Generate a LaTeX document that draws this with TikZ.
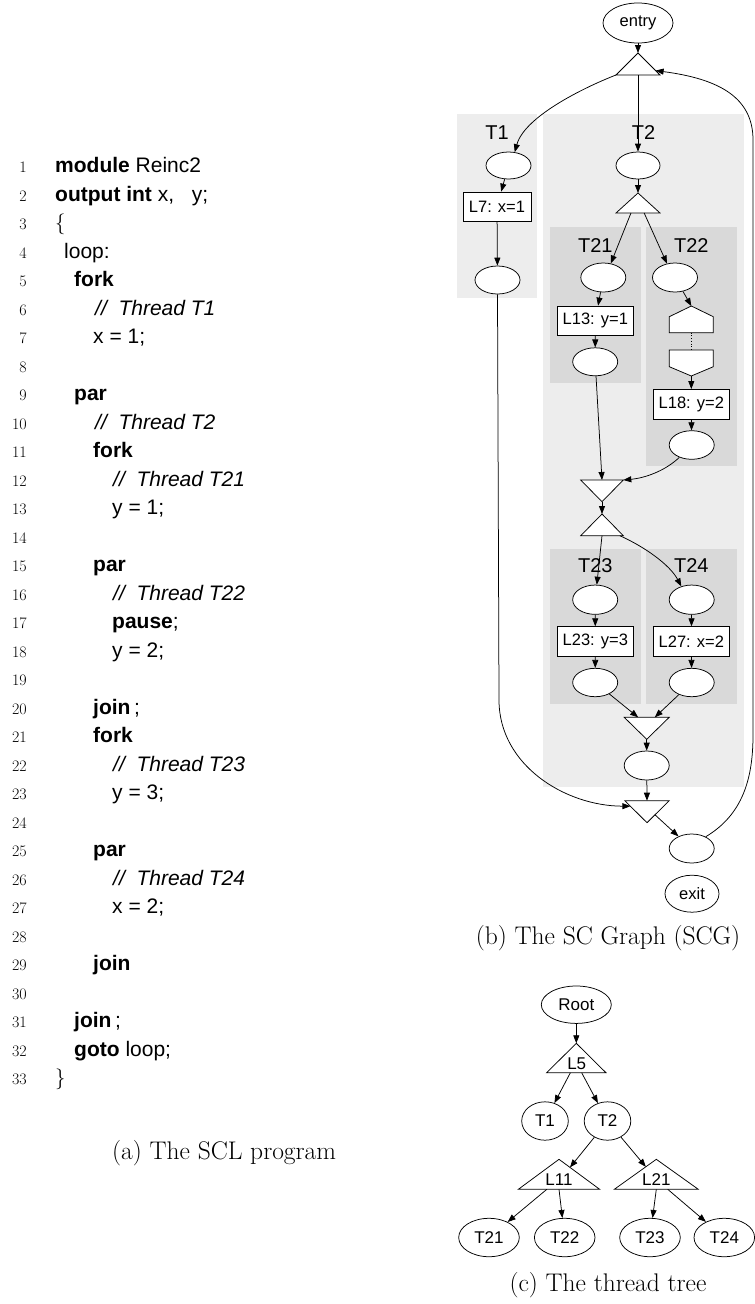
\documentclass[tikz,border=0pt]{standalone}
\usepackage{fontspec}
\newfontfamily\hv{Liberation Sans}
\usetikzlibrary{shapes.geometric,arrows.meta,calc}
\definecolor{clouter}{HTML}{EDEDED}
\definecolor{clinner}{HTML}{D9D9D9}
\tikzset{
  codef/.style={font=\hv\fontsize{21}{25}\selectfont, inner sep=0pt},
  numf/.style={font=\fontsize{16}{18}\selectfont, inner sep=0pt},
  capf/.style={font=\fontsize{25.5}{30}\selectfont, inner sep=0pt},
  ell/.style={ellipse, draw, line width=0.75pt, fill=white, inner sep=0pt, font=\hv\fontsize{16.5}{19}\selectfont},
  tell/.style={ell, font=\hv\fontsize{17}{20}\selectfont},
  stm/.style={rectangle, draw, line width=0.75pt, fill=white, inner sep=0pt, font=\hv\fontsize{16.5}{19}\selectfont},
  tri/.style={rectangle, draw=none, inner sep=0pt, outer sep=0pt},
  tribd/.style={draw, line width=0.75pt, fill=white},
  clab/.style={font=\hv\fontsize{20}{24}\selectfont, inner sep=0pt, anchor=base},
  tlab/.style={font=\hv\fontsize{17}{20}\selectfont, inner sep=0pt},
  arr/.style={-{Triangle[length=8pt,width=6pt]}, line width=0.75pt},
}
\newcommand\triup[1]{\filldraw[tribd] (#1.south west) -- (#1.north) -- (#1.south east) -- cycle;}
\newcommand\tridn[1]{\filldraw[tribd] (#1.north west) -- (#1.south) -- (#1.north east) -- cycle;}
\newcommand\codeln[3]{\node[numf, anchor=base east] (n#1) at (27,{172.7+28.5*(#1-1)}) {#1};
  \node[codef, anchor=base west] (c#1) at (#2,{172.7+28.5*(#1-1)}) {#3};}
\newcommand\numln[1]{\node[numf, anchor=base east] (n#1) at (27,{172.7+28.5*(#1-1)}) {#1};}
\begin{document}
\begin{tikzpicture}[x=1pt,y=-1pt]
\useasboundingbox (0,0) rectangle (755,1304);
\fill[white] (0,0) rectangle (755,1304);

% ---------------- (a) code ----------------
\codeln{1}{55}{\textbf{module} Reinc2}
\codeln{2}{55}{\textbf{output int} x, \hspace{12pt}y;}
\codeln{3}{55}{$\{$}
\codeln{4}{64}{loop:}
\codeln{5}{74}{\textbf{fork}}
\codeln{6}{95}{\itshape //~ Thread T1}
\codeln{7}{93}{x = 1;}
\numln{8}
\codeln{9}{74}{\textbf{par}}
\codeln{10}{95}{\itshape //~ Thread T2}
\codeln{11}{93}{\textbf{fork}}
\codeln{12}{113}{\itshape //~ Thread T21}
\codeln{13}{112}{y = 1;}
\numln{14}
\codeln{15}{93}{\textbf{par}}
\codeln{16}{113}{\itshape //~ Thread T22}
\codeln{17}{112}{\textbf{pause};}
\codeln{18}{112}{y = 2;}
\numln{19}
\codeln{20}{93}{\textbf{join}\,;}
\codeln{21}{93}{\textbf{fork}}
\codeln{22}{113}{\itshape //~ Thread T23}
\codeln{23}{112}{y = 3;}
\numln{24}
\codeln{25}{93}{\textbf{par}}
\codeln{26}{113}{\itshape //~ Thread T24}
\codeln{27}{112}{x = 2;}
\numln{28}
\codeln{29}{93}{\textbf{join}}
\numln{30}
\codeln{31}{74}{\textbf{join}\,;}
\codeln{32}{74}{\textbf{goto} loop;}
\codeln{33}{55}{$\}$}
\node[capf, anchor=base west] (capa) at (112,1159) {(a) The SCL program};

% ---------------- (b) SCG ----------------
\fill[clouter] (457,114) rectangle (537,298);
\fill[clouter] (543,114) rectangle (744,787);
\fill[clinner] (550,226.7) rectangle (640.7,383);
\fill[clinner] (646,226.7) rectangle (736.7,466);
\fill[clinner] (550,549) rectangle (640.7,704);
\fill[clinner] (646,549) rectangle (736.7,704);
\node[clab] (labT1) at (497,139) {T1};
\node[clab] (labT2) at (643.5,139) {T2};
\node[clab] (labT21) at (595.3,252) {T21};
\node[clab] (labT22) at (691.3,252) {T22};
\node[clab] (labT23) at (595.3,572.7) {T23};
\node[clab] (labT24) at (691.3,572.7) {T24};

\node[ell, minimum width=70pt, minimum height=40pt] (entry) at (638,23) {entry};
\node[tri, minimum width=44pt, minimum height=22pt] (f0) at (638,64) {}; \triup{f0}
\node[ell, minimum width=45pt, minimum height=27pt] (t1in) at (508.5,165.5) {};
\node[stm, minimum width=68pt, minimum height=29pt] (l7) at (497,206.5) {L7: x=1};
\node[ell, minimum width=45pt, minimum height=28pt] (t1out) at (497.5,280) {};
\node[ell, minimum width=44pt, minimum height=27pt] (t2in) at (638,165.5) {};
\node[tri, minimum width=44pt, minimum height=20pt] (f2) at (638,203) {}; \triup{f2}
\node[ell, minimum width=45pt, minimum height=29pt] (t21in) at (603.3,277.5) {};
\node[stm, minimum width=76pt, minimum height=29pt] (l13) at (595.3,320.5) {L13: y=1};
\node[ell, minimum width=45pt, minimum height=28pt] (t21out) at (595.2,361.8) {};
\node[ell, minimum width=45pt, minimum height=29pt] (t22in) at (675,277.5) {};
\node[tri, minimum width=44pt, minimum height=26.7pt] (sf) at (691.3,319.35) {};
\filldraw[tribd] (sf.south west) -- ++(0,-16) -- (sf.north) -- ($(sf.south east)+(0,-16)$) -- (sf.south east) -- cycle;
\node[tri, minimum width=44pt, minimum height=26pt] (dp) at (691.3,363) {};
\filldraw[tribd] (dp.north west) -- (dp.north east) -- ++(0,16.7) -- (dp.south) -- ($(dp.north west)+(0,16.7)$) -- cycle;
\node[stm, minimum width=76pt, minimum height=29.6pt] (l18) at (691.3,404.2) {L18: y=2};
\node[ell, minimum width=45pt, minimum height=28.6pt] (t22out) at (691.7,445) {};
\node[tri, minimum width=42.6pt, minimum height=21.7pt] (j1) at (602,490.85) {}; \tridn{j1}
\node[tri, minimum width=42.6pt, minimum height=21.7pt] (f3) at (602,524.85) {}; \triup{f3}
\node[ell, minimum width=45pt, minimum height=29.3pt] (t23in) at (595.2,599.7) {};
\node[stm, minimum width=76pt, minimum height=29.3pt] (l23) at (595.3,641.3) {L23: y=3};
\node[ell, minimum width=45pt, minimum height=28.4pt] (t23out) at (595.2,682.5) {};
\node[ell, minimum width=45pt, minimum height=29.3pt] (t24in) at (691.7,599.7) {};
\node[stm, minimum width=76pt, minimum height=29.3pt] (l27) at (691.3,641.3) {L27: x=2};
\node[ell, minimum width=45pt, minimum height=28.4pt] (t24out) at (691.7,682.5) {};
\node[tri, minimum width=45pt, minimum height=22pt] (j3) at (646.7,728.3) {}; \tridn{j3}
\node[ell, minimum width=45pt, minimum height=29pt] (t2out) at (646.7,765.5) {};
\node[tri, minimum width=44.3pt, minimum height=22pt] (j0) at (647,811.7) {}; \tridn{j0}
\node[ell, minimum width=45pt, minimum height=29pt] (fin) at (691.7,848.5) {};
\node[ell, minimum width=54pt, minimum height=37pt] (exit) at (692,893.7) {exit};

\draw[arr] (entry) -- (f0.north);
\draw[arr] (f0.south west) .. controls (590,85) and (525,115) .. (t1in.65);
\draw[arr] (f0.south) -- (t2in);
\draw[arr] (t1in) -- (l7);
\draw[arr] (l7) -- (t1out);
\draw[arr] (t2in) -- (f2.north);
\draw[arr] ($(f2.south west)!0.34!(f2.south east)$) -- (t21in.62);
\draw[arr] ($(f2.south west)!0.64!(f2.south east)$) -- (t22in.120);
\draw[arr] (t21in) -- (l13);
\draw[arr] (l13) -- (t21out);
\draw[arr] (t21out) -- (j1.north);
\draw[arr] (t22in) -- (sf.north);
\draw[dotted, line width=0.75pt] (sf.south) -- (dp.north);
\draw[arr] (dp.south) -- (l18);
\draw[arr] (l18) -- (t22out);
\draw[arr] (t22out.225) .. controls (665,471) and (645,478) .. (j1.north east);
\draw[arr] (j1.south) -- (f3.north);
\draw[arr] (f3.south) -- (t23in);
\draw[arr] ($(f3.south west)!0.92!(f3.south east)$) .. controls (645,547) and (670,565) .. (t24in.128);
\draw[arr] (t23in) -- (l23);
\draw[arr] (l23) -- (t23out);
\draw[arr] (t24in) -- (l27);
\draw[arr] (l27) -- (t24out);
\draw[arr] (t23out) -- ($(j3.north west)!0.31!(j3.north east)$);
\draw[arr] (t24out) -- ($(j3.north west)!0.68!(j3.north east)$);
\draw[arr] (j3.south) -- (t2out);
\draw[arr] (t2out) -- (j0.north);
\draw[arr] (t1out.south) -- (499,700) .. controls (499,765) and (565,806) .. ($(j0.north west)!0.25!(j0.south)$);
\draw[arr] ($(j0.south)!0.36!(j0.north east)$) -- (fin);
\draw[arr] (fin.40) .. controls (742,815) and (753,780) .. (753,735) -- (753,140) .. controls (753,98) and (720,79) .. ($(f0.south east)!0.2!(f0.north)$);
\node[capf, anchor=base] (capb) at (608,944) {(b) The SC Graph (SCG)};

% ---------------- (c) thread tree ----------------
\node[tell, minimum width=70pt, minimum height=37.4pt] (root) at (576.3,1004.7) {Root};
\node[tri, minimum width=59.3pt, minimum height=29.4pt] (l5) at (576.3,1058) {}; \triup{l5}
\node[tlab] (l5t) at (576.7,1063.3) {L5};
\node[tell, minimum width=46.6pt, minimum height=38.4pt] (tt1) at (545,1121) {T1};
\node[tell, minimum width=46.6pt, minimum height=38.4pt] (tt2) at (607.5,1121) {T2};
\node[tri, minimum width=81.3pt, minimum height=30pt] (l11) at (559,1174.3) {}; \triup{l11}
\node[tlab] (l11t) at (559,1180) {L11};
\node[tri, minimum width=84pt, minimum height=30pt] (l21) at (656.3,1174.3) {}; \triup{l21}
\node[tlab] (l21t) at (656.3,1180) {L21};
\node[tell, minimum width=60.6pt, minimum height=38.4pt] (tt21) at (489,1237.5) {T21};
\node[tell, minimum width=60.6pt, minimum height=38.4pt] (tt22) at (564.7,1237.5) {T22};
\node[tell, minimum width=60.6pt, minimum height=38.4pt] (tt23) at (650,1237.5) {T23};
\node[tell, minimum width=60.6pt, minimum height=38.4pt] (tt24) at (724.3,1237.5) {T24};

\draw[arr] (root) -- (l5.north);
\draw[arr] ($(l5.south west)!0.40!(l5.south east)$) -- (tt1);
\draw[arr] ($(l5.south west)!0.59!(l5.south east)$) -- (tt2);
\draw[arr] (tt2) -- ($(l11.north)!0.27!(l11.south east)$);
\draw[arr] (tt2) -- ($(l21.north)!0.25!(l21.south west)$);
\draw[arr] ($(l11.south west)!0.35!(l11.south east)$) -- (tt21);
\draw[arr] (l11.south) -- (tt22);
\draw[arr] (l21.south) -- (tt23);
\draw[arr] ($(l21.south west)!0.636!(l21.south east)$) -- (tt24);
\node[capf, anchor=base] (capc) at (608,1291) {(c) The thread tree};
\end{tikzpicture}
\end{document}
